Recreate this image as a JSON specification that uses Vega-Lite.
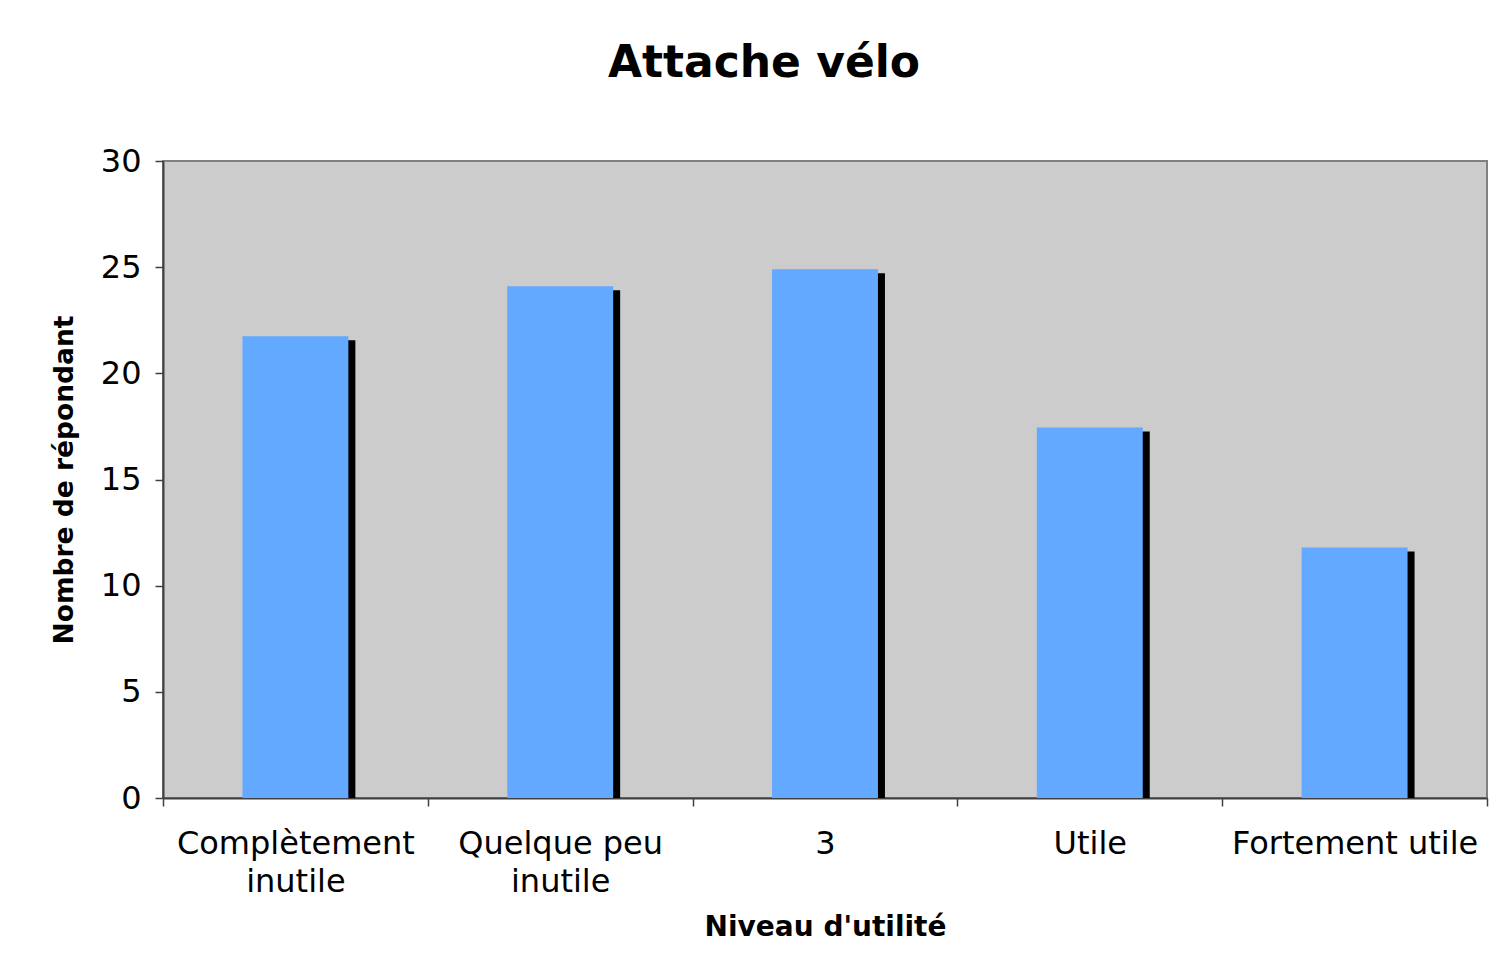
{
  "$schema": "https://vega.github.io/schema/vega-lite/v6.json",
  "width": 1324,
  "height": 637,
  "autosize": {"type": "none"},
  "padding": {"left": 163, "top": 161, "right": 6, "bottom": 169},
  "background": "white",
  "title": {
    "text": "Attache vélo",
    "font": "DejaVu Sans",
    "fontWeight": "bold",
    "fontSize": 44,
    "color": "black",
    "anchor": "middle",
    "dx": -61,
    "baseline": "alphabetic",
    "offset": 24
  },
  "config": {
    "view": {"fill": "#CCCCCC", "stroke": "#808080", "strokeWidth": 2},
    "font": "DejaVu Sans"
  },
  "data": {
    "values": [
      {"niveau": "Complètement inutile", "n": 21.75},
      {"niveau": "Quelque peu inutile", "n": 24.1},
      {"niveau": "3", "n": 24.9},
      {"niveau": "Utile", "n": 17.45},
      {"niveau": "Fortement utile", "n": 11.8}
    ]
  },
  "encoding": {
    "x": {
      "field": "niveau",
      "type": "nominal",
      "sort": null,
      "scale": {"paddingInner": 0, "paddingOuter": 0},
      "axis": {
        "title": "Niveau d'utilité",
        "titleFont": "DejaVu Sans",
        "titleFontWeight": "bold",
        "titleFontSize": 28,
        "titleColor": "black",
        "titlePadding": 16,
        "labelAngle": 0,
        "labelFont": "DejaVu Sans",
        "labelFontSize": 32,
        "labelColor": "black",
        "labelPadding": 22,
        "labelLineHeight": 38,
        "labelLimit": 500,
        "labelExpr": "datum.label == 'Complètement inutile' ? ['Complètement', 'inutile'] : datum.label == 'Quelque peu inutile' ? ['Quelque peu', 'inutile'] : datum.label",
        "tickBand": "extent",
        "tickSize": 8,
        "tickColor": "#404040",
        "tickWidth": 1.5,
        "domainColor": "#404040",
        "domainWidth": 2,
        "grid": false
      }
    },
    "y": {
      "field": "n",
      "type": "quantitative",
      "scale": {"domain": [0, 30], "nice": false},
      "axis": {
        "title": "Nombre de répondant",
        "titleFont": "DejaVu Sans",
        "titleFontWeight": "bold",
        "titleFontSize": 26.5,
        "titleColor": "black",
        "titlePadding": 22,
        "values": [0, 5, 10, 15, 20, 25, 30],
        "labelFont": "DejaVu Sans",
        "labelFontSize": 32,
        "labelColor": "black",
        "labelPadding": 14,
        "tickSize": 8,
        "tickColor": "#404040",
        "tickWidth": 1.5,
        "domainColor": "#404040",
        "domainWidth": 2,
        "grid": false
      }
    }
  },
  "layer": [
    {
      "mark": {"type": "bar", "color": "black", "width": {"band": 0.4}, "xOffset": 7, "yOffset": 4, "clip": true}
    },
    {
      "mark": {"type": "bar", "color": "#63A9FF", "width": {"band": 0.4}}
    }
  ]
}
